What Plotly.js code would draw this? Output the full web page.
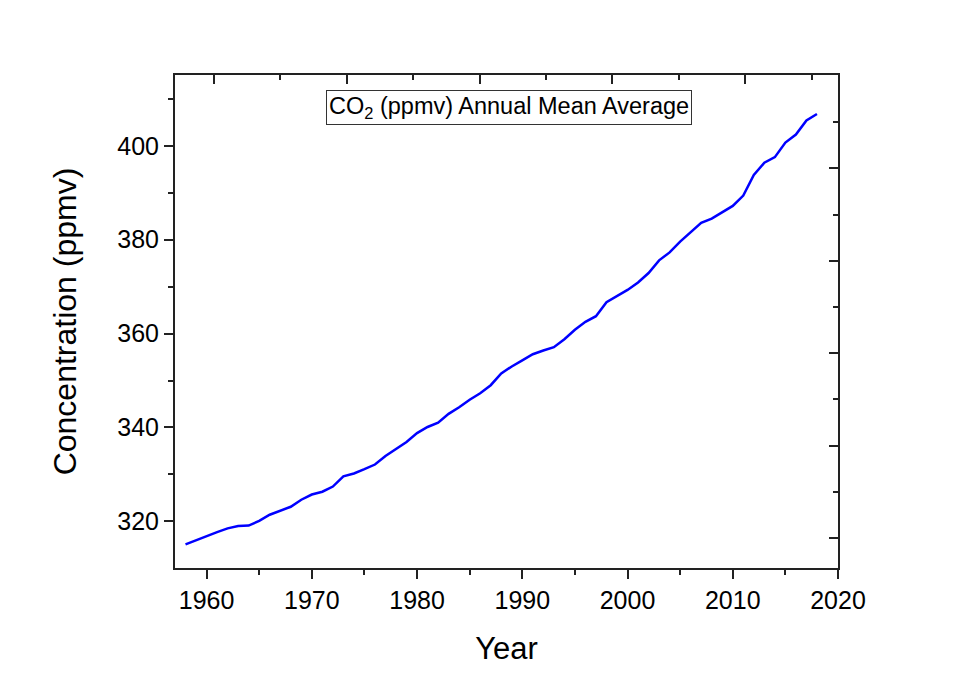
<!DOCTYPE html>
<html>
<head>
<meta charset="utf-8">
<script src="https://cdn.plot.ly/plotly-3.0.1.min.js"></script>
<style>
  html, body { margin: 0; padding: 0; background: #ffffff; }
  #chart { width: 969px; height: 680px; }
</style>
</head>
<body>
<div id="chart"></div>
<script>
// Annual mean CO2 concentration (ppmv), 1958-2018
const years = [
  1958, 1959, 1960, 1961, 1962, 1963, 1964, 1965, 1966, 1967,
  1968, 1969, 1970, 1971, 1972, 1973, 1974, 1975, 1976, 1977,
  1978, 1979, 1980, 1981, 1982, 1983, 1984, 1985, 1986, 1987,
  1988, 1989, 1990, 1991, 1992, 1993, 1994, 1995, 1996, 1997,
  1998, 1999, 2000, 2001, 2002, 2003, 2004, 2005, 2006, 2007,
  2008, 2009, 2010, 2011, 2012, 2013, 2014, 2015, 2016, 2017,
  2018
];
const co2 = [
  315.1, 316.0, 316.9, 317.7, 318.5, 319.0, 319.1, 320.1, 321.4, 322.2,
  323.1, 324.6, 325.7, 326.3, 327.4, 329.6, 330.2, 331.1, 332.1, 333.9,
  335.4, 336.9, 338.8, 340.1, 341.0, 342.9, 344.3, 345.9, 347.3, 349.0,
  351.5, 353.0, 354.3, 355.6, 356.4, 357.1, 358.8, 360.8, 362.5, 363.7,
  366.7, 368.0, 369.3, 370.9, 372.9, 375.6, 377.3, 379.6, 381.6, 383.6,
  384.5, 385.8, 387.2, 389.4, 393.8, 396.4, 397.6, 400.7, 402.4, 405.4,
  406.8
];

const xTitle = 'Year';
const yTitle = 'Concentration (ppmv)';
const boxLabel = 'CO<sub>2</sub> (ppmv) Annual Mean Average';

const FONT = 'Liberation Sans, Arial, sans-serif';
const AX = '#222222';

const traces = [
  {
    x: years,
    y: co2,
    type: 'scatter',
    mode: 'lines',
    line: { color: '#0000ff', width: 2.5 },
    showlegend: false,
    hoverinfo: 'x+y'
  },
  {
    // carrier for the frame's top/right tick axes
    x: [], y: [],
    type: 'scatter', mode: 'lines',
    xaxis: 'x2', yaxis: 'y2',
    showlegend: false, hoverinfo: 'skip'
  }
];

const layout = {
  width: 969,
  height: 680,
  paper_bgcolor: '#ffffff',
  plot_bgcolor: '#ffffff',
  margin: { l: 175, r: 131, t: 75, b: 112 },
  font: { family: FONT, color: '#000000' },
  xaxis: {
    range: [1957, 2020],
    dtick: 10,
    tick0: 1960,
    ticks: 'outside',
    ticklen: 9,
    tickwidth: 2,
    tickcolor: AX,
    minor: { dtick: 5, ticks: 'outside', ticklen: 5, tickwidth: 2, tickcolor: AX },
    showline: true,
    linecolor: AX,
    linewidth: 2,
    showgrid: false,
    zeroline: false,
    tickfont: { family: FONT, size: 25, color: '#000000' },
    title: { text: xTitle, font: { family: FONT, size: 31, color: '#000000' }, standoff: 24 }
  },
  yaxis: {
    range: [310.05, 415.1],
    dtick: 20,
    tick0: 320,
    ticks: 'outside',
    ticklen: 9,
    tickwidth: 2,
    tickcolor: AX,
    minor: { dtick: 10, ticks: 'outside', ticklen: 5, tickwidth: 2, tickcolor: AX },
    showline: true,
    linecolor: AX,
    linewidth: 2,
    showgrid: false,
    zeroline: false,
    tickfont: { family: FONT, size: 25, color: '#000000' },
    title: { text: yTitle, font: { family: FONT, size: 32, color: '#000000' }, standoff: 31 }
  },
  xaxis2: {
    overlaying: 'x',
    side: 'top',
    anchor: 'y',
    range: [-0.587, 9.398],
    tick0: 0,
    dtick: 2,
    ticks: 'inside',
    ticklen: 9,
    tickwidth: 2,
    tickcolor: AX,
    minor: { dtick: 1, ticks: 'inside', ticklen: 5, tickwidth: 2, tickcolor: AX },
    showticklabels: false,
    showline: true,
    linecolor: AX,
    linewidth: 2,
    showgrid: false,
    zeroline: false
  },
  yaxis2: {
    overlaying: 'y',
    side: 'right',
    anchor: 'x',
    range: [-0.649, 10.02],
    tick0: 0,
    dtick: 2,
    ticks: 'inside',
    ticklen: 9,
    tickwidth: 2,
    tickcolor: AX,
    minor: { dtick: 1, ticks: 'inside', ticklen: 5, tickwidth: 2, tickcolor: AX },
    showticklabels: false,
    showline: true,
    linecolor: AX,
    linewidth: 2,
    showgrid: false,
    zeroline: false
  },
  annotations: [
    {
      text: boxLabel,
      xref: 'paper', yref: 'paper',
      x: 0.5045, y: 0.935,
      xanchor: 'center', yanchor: 'middle',
      showarrow: false,
      font: { family: FONT, size: 23.5, color: '#000000' },
      bordercolor: '#333333',
      borderwidth: 1,
      borderpad: 2,
      bgcolor: '#ffffff'
    }
  ]
};

Plotly.newPlot('chart', traces, layout, { displayModeBar: false, staticPlot: true });
</script>
</body>
</html>
